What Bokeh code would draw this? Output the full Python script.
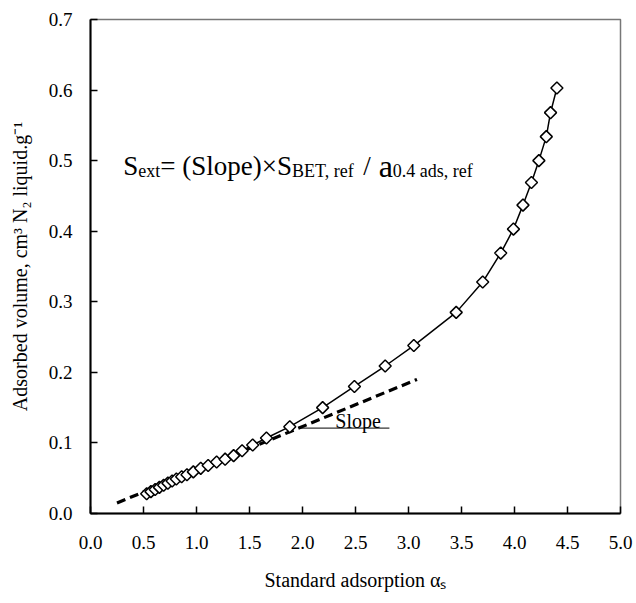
from bokeh.plotting import figure
from bokeh.models import Label, NumeralTickFormatter, FixedTicker, Range1d
from bokeh.embed import file_html
from bokeh.resources import INLINE

# ---- data ----
alpha_s = [0.53, 0.57, 0.61, 0.65, 0.69, 0.73, 0.77, 0.81, 0.86, 0.91, 0.97,
           1.04, 1.11, 1.19, 1.27, 1.35, 1.43, 1.53, 1.66, 1.88, 2.19, 2.49,
           2.78, 3.05, 3.45, 3.70, 3.87, 3.99, 4.08, 4.16, 4.23, 4.30, 4.34, 4.40]
volume = [0.028, 0.031, 0.034, 0.037, 0.040, 0.043, 0.046, 0.049, 0.052, 0.055, 0.059,
          0.064, 0.068, 0.073, 0.077, 0.082, 0.089, 0.097, 0.107, 0.123, 0.150, 0.180,
          0.209, 0.238, 0.285, 0.328, 0.369, 0.403, 0.437, 0.469, 0.500, 0.534, 0.568, 0.603]
tangent_x = [0.25, 3.08]
tangent_y = [0.015, 0.190]
slope_x = [1.98, 2.82]
slope_y = [0.121, 0.121]
x_ticks = [0.0, 0.5, 1.0, 1.5, 2.0, 2.5, 3.0, 3.5, 4.0, 4.5, 5.0]
y_ticks = [0.0, 0.1, 0.2, 0.3, 0.4, 0.5, 0.6, 0.7]

FONT = "Liberation Serif"

p = figure(width=636, height=603, output_backend="svg", toolbar_location=None,
           x_range=Range1d(0, 5), y_range=Range1d(0, 0.7),
           min_border_left=90, min_border_right=16, min_border_top=19, min_border_bottom=90)
p.background_fill_color = "white"
p.border_fill_color = "white"
p.outline_line_color = "#777777"
p.outline_line_width = 1.5
p.grid.visible = False

p.xaxis.ticker = FixedTicker(ticks=x_ticks)
p.yaxis.ticker = FixedTicker(ticks=y_ticks)
p.xaxis.formatter = NumeralTickFormatter(format="0.0")
p.yaxis.formatter = NumeralTickFormatter(format="0.0")
for ax in (p.xaxis, p.yaxis):
    ax.axis_line_color = "black"
    ax.axis_line_width = 2
    ax.major_tick_line_color = "black"
    ax.major_tick_line_width = 1.5
    ax.major_tick_in = 7
    ax.major_tick_out = 0
    ax.minor_tick_line_color = None
    ax.major_label_text_font = FONT
    ax.major_label_text_font_size = "19px"
    ax.major_label_text_color = "black"
    ax.axis_label_text_font = FONT
    ax.axis_label_text_font_size = "20px"
    ax.axis_label_text_font_style = "normal"
    ax.axis_label_text_color = "black"

p.xaxis.major_label_standoff = 22
p.yaxis.major_label_standoff = 18
p.xaxis.axis_label = "Standard adsorption \u03b1\u209b"
p.yaxis.axis_label = "Adsorbed volume, cm\u00b3 N\u2082 liquid.g\u207b\u00b9"
p.xaxis.axis_label_standoff = 17
p.yaxis.axis_label_standoff = 15

# tangent (dashed) and slope guide
p.line(tangent_x, tangent_y, line_color="black", line_width=3.2, line_dash="9 5")
p.line(slope_x, slope_y, line_color="black", line_width=1)

# isotherm
p.line(alpha_s, volume, line_color="black", line_width=1.5)
p.scatter(alpha_s, volume, marker="square", angle=0.785398, size=8.5,
          fill_color="white", line_color="black", line_width=1.5)

# "Slope" label
p.add_layout(Label(x=2.31, y=0.131, text="Slope", text_font=FONT,
                   text_font_size="20px", text_color="black",
                   text_baseline="alphabetic", text_align="left"))

# formula, built from pieces (Times / Liberation Serif advance widths)
W = {" ": 250, "(": 333, ")": 333, ",": 250, ".": 250, "/": 278, "=": 564,
     "\u00d7": 564, "B": 667, "E": 611, "T": 611, "S": 556, "a": 444, "d": 500,
     "e": 444, "f": 333, "l": 278, "o": 500, "p": 500, "r": 333, "s": 389,
     "t": 278, "x": 500, "0": 500, "4": 500}

def width(txt, size):
    return sum(W.get(c, 500) for c in txt) * size / 1000.0

MAIN, SUB, BIG = 27, 18, 32
# (text, size, is_subscript, leading space in em of its size)
pieces = [("S", MAIN, 0, 0), ("ext", SUB, 1, 0), ("= (Slope)\u00d7S", MAIN, 0, 0),
          ("BET, ref", SUB, 1, 0), ("/", MAIN, 0, 0.3), ("a", BIG, 0, 0.25),
          ("0.4 ads, ref", SUB, 1, 0)]
fx, fy, fy_sub = 0.31, 0.492, 0.486
off = 0.0
for txt, size, is_sub, lead in pieces:
    off += lead * size
    p.add_layout(Label(x=fx, y=fy_sub if is_sub else fy, x_offset=off, text=txt,
                       text_font=FONT, text_font_size=f"{size}px", text_color="black",
                       text_baseline="alphabetic", text_align="left"))
    off += width(txt, size)

open("out.html", "w").write(file_html(p, INLINE))
